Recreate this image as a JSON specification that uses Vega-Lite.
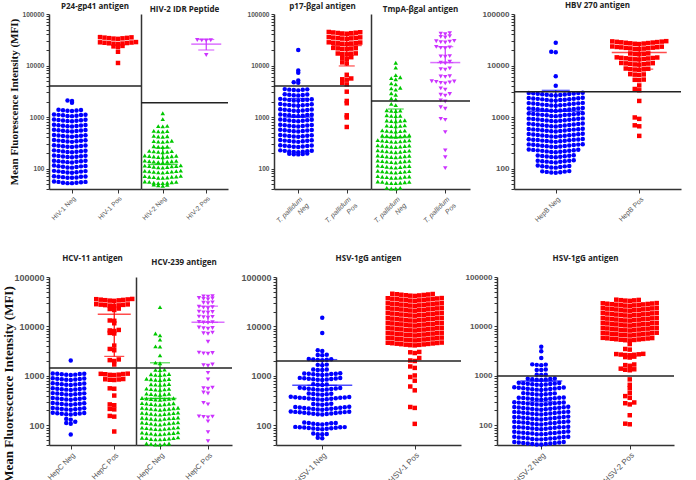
{
"$schema":"https://vega.github.io/schema/vega-lite/v6.json",
"padding":{"left":2,"top":2,"right":0,"bottom":0},
"background":"white",
"spacing":24,
"config":{
 "view":{"stroke":null},
 "axis":{"grid":false,"domainColor":"#333333","domainWidth":1.5,"tickColor":"#333333","tickWidth":1,"labelColor":"#555555","labelFont":"Liberation Sans","labelOverlap":false,"labelFlush":false},
 "axisX":{"labelAngle":-45,"labelFontWeight":"normal","tickSize":4,"labelPadding":2},
 "axisY":{"labelFontWeight":"bold","labelPadding":2,"tickSize":3},
 "title":{"font":"Open Sans","fontWeight":"bold","fontSize":8,"color":"#222222","anchor":"middle","frame":"group"}
},
"datasets":{
 "cutoffs":[{"antigen":"P24-gp41","mfi":4000},{"antigen":"HIV-2 IDR","mfi":1900},{"antigen":"p17","mfi":4000},{"antigen":"TmpA","mfi":2050},{"antigen":"HBV 270","mfi":3100},{"antigen":"HCV-11","mfi":1450},{"antigen":"HCV-239","mfi":1450},{"antigen":"HSV-1gG","mfi":2000},{"antigen":"HSV-2gG","mfi":1000}],
 "stats":[
  {"antigen":"HIV-2 IDR","status":"Neg","mean":120,"lo":120,"hi":250},
  {"antigen":"HIV-2 IDR","status":"Pos","mean":26000,"lo":20000,"hi":32000},
  {"antigen":"p17","status":"Neg","mean":1000,"lo":1000,"hi":2300},
  {"antigen":"p17","status":"Pos","mean":24500,"lo":9800,"hi":39000},
  {"antigen":"TmpA","status":"Neg","mean":400,"lo":400,"hi":1430},
  {"antigen":"TmpA","status":"Pos","mean":11400,"lo":11400,"hi":23200},
  {"antigen":"HBV 270","status":"Neg","mean":1300,"lo":1300,"hi":3300},
  {"antigen":"HBV 270","status":"Pos","mean":17800,"lo":8500,"hi":27100},
  {"antigen":"HCV-11","status":"Pos","mean":17600,"lo":2480,"hi":33000},
  {"antigen":"HCV-239","status":"Neg","mean":350,"lo":350,"hi":1840},
  {"antigen":"HCV-239","status":"Pos","mean":12100,"lo":12100,"hi":25700},
  {"antigen":"HSV-1gG","status":"Neg","mean":645,"lo":645,"hi":2140},
  {"antigen":"HSV-2gG","status":"Neg","mean":790,"lo":300,"hi":790}
 ],
 "hiv1n":[{"mfi":52},{"mfi":52},{"mfi":53},{"mfi":53},{"mfi":54},{"mfi":55},{"mfi":55},{"mfi":56},{"mfi":66},{"mfi":66},{"mfi":67},{"mfi":68},{"mfi":69},{"mfi":69},{"mfi":70},{"mfi":71},{"mfi":83},{"mfi":84},{"mfi":85},{"mfi":86},{"mfi":87},{"mfi":88},{"mfi":89},{"mfi":90},{"mfi":104},{"mfi":105},{"mfi":107},{"mfi":108},{"mfi":110},{"mfi":111},{"mfi":112},{"mfi":114},{"mfi":131},{"mfi":133},{"mfi":135},{"mfi":136},{"mfi":138},{"mfi":139},{"mfi":141},{"mfi":142},{"mfi":165},{"mfi":167},{"mfi":169},{"mfi":171},{"mfi":173},{"mfi":175},{"mfi":177},{"mfi":179},{"mfi":207},{"mfi":210},{"mfi":212},{"mfi":215},{"mfi":217},{"mfi":220},{"mfi":222},{"mfi":225},{"mfi":261},{"mfi":264},{"mfi":267},{"mfi":270},{"mfi":273},{"mfi":276},{"mfi":279},{"mfi":282},{"mfi":329},{"mfi":333},{"mfi":337},{"mfi":341},{"mfi":345},{"mfi":348},{"mfi":352},{"mfi":356},{"mfi":414},{"mfi":419},{"mfi":424},{"mfi":429},{"mfi":434},{"mfi":438},{"mfi":443},{"mfi":448},{"mfi":521},{"mfi":527},{"mfi":533},{"mfi":539},{"mfi":545},{"mfi":551},{"mfi":557},{"mfi":563},{"mfi":656},{"mfi":664},{"mfi":671},{"mfi":679},{"mfi":686},{"mfi":694},{"mfi":701},{"mfi":709},{"mfi":826},{"mfi":835},{"mfi":845},{"mfi":854},{"mfi":864},{"mfi":873},{"mfi":883},{"mfi":892},{"mfi":1040},{"mfi":1050},{"mfi":1060},{"mfi":1080},{"mfi":1090},{"mfi":1100},{"mfi":1110},{"mfi":1120},{"mfi":1310},{"mfi":1320},{"mfi":1340},{"mfi":1350},{"mfi":1370},{"mfi":1380},{"mfi":1900},{"mfi":2050},{"mfi":2100}],
 "hiv1p":[{"mfi":32900},{"mfi":33300},{"mfi":33700},{"mfi":34000},{"mfi":34400},{"mfi":34800},{"mfi":35200},{"mfi":35600},{"mfi":26100},{"mfi":26400},{"mfi":26700},{"mfi":27000},{"mfi":27300},{"mfi":27600},{"mfi":27900},{"mfi":28200},{"mfi":28500},{"mfi":23000},{"mfi":23500},{"mfi":24000},{"mfi":18500},{"mfi":11200}],
 "hiv2n":[{"mfi":46},{"mfi":47},{"mfi":48},{"mfi":49},{"mfi":52},{"mfi":52},{"mfi":53},{"mfi":53},{"mfi":54},{"mfi":55},{"mfi":55},{"mfi":56},{"mfi":66},{"mfi":66},{"mfi":67},{"mfi":68},{"mfi":69},{"mfi":69},{"mfi":70},{"mfi":71},{"mfi":72},{"mfi":83},{"mfi":84},{"mfi":85},{"mfi":86},{"mfi":87},{"mfi":88},{"mfi":89},{"mfi":90},{"mfi":91},{"mfi":104},{"mfi":105},{"mfi":107},{"mfi":108},{"mfi":110},{"mfi":111},{"mfi":112},{"mfi":114},{"mfi":115},{"mfi":131},{"mfi":133},{"mfi":135},{"mfi":136},{"mfi":138},{"mfi":139},{"mfi":141},{"mfi":142},{"mfi":165},{"mfi":167},{"mfi":169},{"mfi":171},{"mfi":173},{"mfi":175},{"mfi":177},{"mfi":179},{"mfi":207},{"mfi":210},{"mfi":212},{"mfi":215},{"mfi":217},{"mfi":220},{"mfi":261},{"mfi":264},{"mfi":267},{"mfi":270},{"mfi":329},{"mfi":333},{"mfi":337},{"mfi":341},{"mfi":345},{"mfi":414},{"mfi":419},{"mfi":424},{"mfi":429},{"mfi":521},{"mfi":527},{"mfi":533},{"mfi":539},{"mfi":656},{"mfi":664},{"mfi":671},{"mfi":910},{"mfi":1180}],
 "hiv2p":[{"mfi":30600},{"mfi":30800},{"mfi":31000},{"mfi":31200},{"mfi":16000}],
 "p17n":[{"mfi":188},{"mfi":190},{"mfi":192},{"mfi":194},{"mfi":196},{"mfi":207},{"mfi":210},{"mfi":212},{"mfi":215},{"mfi":217},{"mfi":220},{"mfi":222},{"mfi":225},{"mfi":261},{"mfi":264},{"mfi":267},{"mfi":270},{"mfi":273},{"mfi":276},{"mfi":279},{"mfi":282},{"mfi":329},{"mfi":333},{"mfi":337},{"mfi":341},{"mfi":345},{"mfi":348},{"mfi":352},{"mfi":356},{"mfi":414},{"mfi":419},{"mfi":424},{"mfi":429},{"mfi":434},{"mfi":438},{"mfi":443},{"mfi":448},{"mfi":521},{"mfi":527},{"mfi":533},{"mfi":539},{"mfi":545},{"mfi":551},{"mfi":557},{"mfi":563},{"mfi":656},{"mfi":664},{"mfi":671},{"mfi":679},{"mfi":686},{"mfi":694},{"mfi":701},{"mfi":709},{"mfi":826},{"mfi":835},{"mfi":845},{"mfi":854},{"mfi":864},{"mfi":873},{"mfi":883},{"mfi":892},{"mfi":1040},{"mfi":1050},{"mfi":1060},{"mfi":1080},{"mfi":1090},{"mfi":1100},{"mfi":1110},{"mfi":1120},{"mfi":1310},{"mfi":1320},{"mfi":1340},{"mfi":1350},{"mfi":1370},{"mfi":1380},{"mfi":1400},{"mfi":1410},{"mfi":1650},{"mfi":1670},{"mfi":1690},{"mfi":1710},{"mfi":1720},{"mfi":1740},{"mfi":1760},{"mfi":1780},{"mfi":2080},{"mfi":2100},{"mfi":2130},{"mfi":2150},{"mfi":2170},{"mfi":2200},{"mfi":2220},{"mfi":2250},{"mfi":2610},{"mfi":2640},{"mfi":2670},{"mfi":2700},{"mfi":2730},{"mfi":2760},{"mfi":3290},{"mfi":3330},{"mfi":3370},{"mfi":3400},{"mfi":3440},{"mfi":3480},{"mfi":4600},{"mfi":4750},{"mfi":5100},{"mfi":7200},{"mfi":8000},{"mfi":20000}],
 "p17p":[{"mfi":41400},{"mfi":41900},{"mfi":42400},{"mfi":42800},{"mfi":43300},{"mfi":43800},{"mfi":44300},{"mfi":44800},{"mfi":32900},{"mfi":33300},{"mfi":33700},{"mfi":34000},{"mfi":34400},{"mfi":34800},{"mfi":35200},{"mfi":35600},{"mfi":26100},{"mfi":26400},{"mfi":26700},{"mfi":27000},{"mfi":27300},{"mfi":27600},{"mfi":27900},{"mfi":28200},{"mfi":20800},{"mfi":21000},{"mfi":21300},{"mfi":21500},{"mfi":21700},{"mfi":22000},{"mfi":16500},{"mfi":16700},{"mfi":16900},{"mfi":17100},{"mfi":17200},{"mfi":13500},{"mfi":14000},{"mfi":14500},{"mfi":11000},{"mfi":11500},{"mfi":6600},{"mfi":5300},{"mfi":5400},{"mfi":5600},{"mfi":4300},{"mfi":4600},{"mfi":3100},{"mfi":2050},{"mfi":1850},{"mfi":1080},{"mfi":980},{"mfi":640}],
 "tmpn":[{"mfi":41},{"mfi":41},{"mfi":42},{"mfi":42},{"mfi":52},{"mfi":52},{"mfi":53},{"mfi":53},{"mfi":54},{"mfi":55},{"mfi":55},{"mfi":56},{"mfi":66},{"mfi":66},{"mfi":67},{"mfi":68},{"mfi":69},{"mfi":69},{"mfi":70},{"mfi":71},{"mfi":83},{"mfi":84},{"mfi":85},{"mfi":86},{"mfi":87},{"mfi":88},{"mfi":89},{"mfi":90},{"mfi":104},{"mfi":105},{"mfi":107},{"mfi":108},{"mfi":110},{"mfi":111},{"mfi":112},{"mfi":114},{"mfi":131},{"mfi":133},{"mfi":135},{"mfi":136},{"mfi":138},{"mfi":139},{"mfi":141},{"mfi":142},{"mfi":165},{"mfi":167},{"mfi":169},{"mfi":171},{"mfi":173},{"mfi":175},{"mfi":177},{"mfi":179},{"mfi":207},{"mfi":210},{"mfi":212},{"mfi":215},{"mfi":217},{"mfi":220},{"mfi":222},{"mfi":225},{"mfi":261},{"mfi":264},{"mfi":267},{"mfi":270},{"mfi":273},{"mfi":276},{"mfi":279},{"mfi":282},{"mfi":329},{"mfi":333},{"mfi":337},{"mfi":341},{"mfi":345},{"mfi":348},{"mfi":352},{"mfi":356},{"mfi":414},{"mfi":419},{"mfi":424},{"mfi":429},{"mfi":434},{"mfi":438},{"mfi":443},{"mfi":521},{"mfi":527},{"mfi":533},{"mfi":539},{"mfi":545},{"mfi":551},{"mfi":656},{"mfi":664},{"mfi":671},{"mfi":679},{"mfi":686},{"mfi":826},{"mfi":835},{"mfi":845},{"mfi":854},{"mfi":864},{"mfi":1040},{"mfi":1050},{"mfi":1060},{"mfi":1080},{"mfi":1310},{"mfi":1320},{"mfi":1340},{"mfi":1350},{"mfi":1700},{"mfi":1800},{"mfi":2200},{"mfi":2300},{"mfi":2700},{"mfi":2900},{"mfi":3400},{"mfi":3600},{"mfi":3700},{"mfi":4300},{"mfi":4500},{"mfi":5400},{"mfi":5700},{"mfi":5900},{"mfi":6500},{"mfi":9100},{"mfi":11300}],
 "tmpp":[{"mfi":40500},{"mfi":41500},{"mfi":42500},{"mfi":35000},{"mfi":36000},{"mfi":37000},{"mfi":28000},{"mfi":28500},{"mfi":29000},{"mfi":29500},{"mfi":30000},{"mfi":21500},{"mfi":22000},{"mfi":22500},{"mfi":23000},{"mfi":14800},{"mfi":15000},{"mfi":15200},{"mfi":11000},{"mfi":11400},{"mfi":11800},{"mfi":8300},{"mfi":8500},{"mfi":8800},{"mfi":6000},{"mfi":6100},{"mfi":6200},{"mfi":4500},{"mfi":4600},{"mfi":4700},{"mfi":4800},{"mfi":4900},{"mfi":4950},{"mfi":3400},{"mfi":3600},{"mfi":2600},{"mfi":2700},{"mfi":2800},{"mfi":2000},{"mfi":2100},{"mfi":1450},{"mfi":1550},{"mfi":880},{"mfi":920},{"mfi":510},{"mfi":225},{"mfi":165},{"mfi":102}],
 "hbvn":[{"mfi":83},{"mfi":84},{"mfi":85},{"mfi":86},{"mfi":87},{"mfi":88},{"mfi":89},{"mfi":104},{"mfi":105},{"mfi":107},{"mfi":108},{"mfi":110},{"mfi":111},{"mfi":112},{"mfi":114},{"mfi":131},{"mfi":133},{"mfi":135},{"mfi":136},{"mfi":138},{"mfi":139},{"mfi":141},{"mfi":142},{"mfi":144},{"mfi":165},{"mfi":167},{"mfi":169},{"mfi":171},{"mfi":173},{"mfi":175},{"mfi":177},{"mfi":179},{"mfi":181},{"mfi":207},{"mfi":210},{"mfi":212},{"mfi":215},{"mfi":217},{"mfi":220},{"mfi":222},{"mfi":225},{"mfi":227},{"mfi":230},{"mfi":232},{"mfi":234},{"mfi":261},{"mfi":264},{"mfi":267},{"mfi":270},{"mfi":273},{"mfi":276},{"mfi":279},{"mfi":282},{"mfi":285},{"mfi":288},{"mfi":291},{"mfi":294},{"mfi":297},{"mfi":329},{"mfi":333},{"mfi":337},{"mfi":341},{"mfi":345},{"mfi":348},{"mfi":352},{"mfi":356},{"mfi":360},{"mfi":363},{"mfi":367},{"mfi":371},{"mfi":375},{"mfi":414},{"mfi":419},{"mfi":424},{"mfi":429},{"mfi":434},{"mfi":438},{"mfi":443},{"mfi":448},{"mfi":453},{"mfi":458},{"mfi":463},{"mfi":467},{"mfi":472},{"mfi":521},{"mfi":527},{"mfi":533},{"mfi":539},{"mfi":545},{"mfi":551},{"mfi":557},{"mfi":563},{"mfi":569},{"mfi":575},{"mfi":581},{"mfi":587},{"mfi":593},{"mfi":656},{"mfi":664},{"mfi":671},{"mfi":679},{"mfi":686},{"mfi":694},{"mfi":701},{"mfi":709},{"mfi":716},{"mfi":724},{"mfi":731},{"mfi":739},{"mfi":746},{"mfi":826},{"mfi":835},{"mfi":845},{"mfi":854},{"mfi":864},{"mfi":873},{"mfi":883},{"mfi":892},{"mfi":902},{"mfi":911},{"mfi":921},{"mfi":930},{"mfi":940},{"mfi":1040},{"mfi":1050},{"mfi":1060},{"mfi":1080},{"mfi":1090},{"mfi":1100},{"mfi":1110},{"mfi":1120},{"mfi":1130},{"mfi":1150},{"mfi":1160},{"mfi":1170},{"mfi":1180},{"mfi":1310},{"mfi":1320},{"mfi":1340},{"mfi":1350},{"mfi":1370},{"mfi":1380},{"mfi":1400},{"mfi":1410},{"mfi":1430},{"mfi":1440},{"mfi":1460},{"mfi":1470},{"mfi":1490},{"mfi":1650},{"mfi":1670},{"mfi":1690},{"mfi":1710},{"mfi":1720},{"mfi":1740},{"mfi":1760},{"mfi":1780},{"mfi":1800},{"mfi":1820},{"mfi":1840},{"mfi":1860},{"mfi":1880},{"mfi":2080},{"mfi":2100},{"mfi":2130},{"mfi":2150},{"mfi":2170},{"mfi":2200},{"mfi":2220},{"mfi":2250},{"mfi":2270},{"mfi":2290},{"mfi":2320},{"mfi":2340},{"mfi":2370},{"mfi":2610},{"mfi":2640},{"mfi":2670},{"mfi":2700},{"mfi":2730},{"mfi":2760},{"mfi":2790},{"mfi":2820},{"mfi":2850},{"mfi":2880},{"mfi":2910},{"mfi":2940},{"mfi":2970},{"mfi":4050},{"mfi":6200},{"mfi":18000},{"mfi":18500},{"mfi":27700}],
 "hbvp":[{"mfi":26100},{"mfi":26400},{"mfi":26700},{"mfi":27000},{"mfi":27300},{"mfi":27600},{"mfi":27900},{"mfi":28200},{"mfi":28500},{"mfi":28800},{"mfi":29100},{"mfi":29400},{"mfi":29700},{"mfi":20800},{"mfi":21000},{"mfi":21300},{"mfi":21500},{"mfi":21700},{"mfi":22000},{"mfi":22200},{"mfi":22500},{"mfi":22700},{"mfi":22900},{"mfi":23200},{"mfi":23400},{"mfi":16500},{"mfi":16700},{"mfi":16900},{"mfi":17100},{"mfi":17200},{"mfi":13100},{"mfi":13200},{"mfi":13400},{"mfi":13500},{"mfi":13700},{"mfi":13800},{"mfi":14000},{"mfi":14100},{"mfi":14300},{"mfi":14400},{"mfi":10400},{"mfi":10500},{"mfi":10600},{"mfi":10800},{"mfi":10900},{"mfi":11000},{"mfi":11100},{"mfi":11200},{"mfi":8260},{"mfi":8350},{"mfi":8450},{"mfi":8540},{"mfi":8640},{"mfi":8730},{"mfi":6560},{"mfi":6640},{"mfi":6710},{"mfi":6790},{"mfi":5210},{"mfi":5270},{"mfi":5330},{"mfi":4100},{"mfi":3300},{"mfi":3500},{"mfi":2050},{"mfi":920},{"mfi":980},{"mfi":660},{"mfi":690},{"mfi":430}],
 "hcv11n":[{"mfi":65},{"mfi":108},{"mfi":112},{"mfi":118},{"mfi":130},{"mfi":135},{"mfi":165},{"mfi":167},{"mfi":169},{"mfi":171},{"mfi":173},{"mfi":175},{"mfi":177},{"mfi":179},{"mfi":207},{"mfi":210},{"mfi":212},{"mfi":215},{"mfi":217},{"mfi":220},{"mfi":222},{"mfi":225},{"mfi":261},{"mfi":264},{"mfi":267},{"mfi":270},{"mfi":273},{"mfi":276},{"mfi":279},{"mfi":282},{"mfi":329},{"mfi":333},{"mfi":337},{"mfi":341},{"mfi":345},{"mfi":348},{"mfi":352},{"mfi":356},{"mfi":414},{"mfi":419},{"mfi":424},{"mfi":429},{"mfi":434},{"mfi":438},{"mfi":443},{"mfi":448},{"mfi":521},{"mfi":527},{"mfi":533},{"mfi":539},{"mfi":545},{"mfi":551},{"mfi":557},{"mfi":563},{"mfi":656},{"mfi":664},{"mfi":671},{"mfi":679},{"mfi":686},{"mfi":694},{"mfi":701},{"mfi":709},{"mfi":826},{"mfi":835},{"mfi":845},{"mfi":854},{"mfi":864},{"mfi":873},{"mfi":883},{"mfi":892},{"mfi":1040},{"mfi":1050},{"mfi":1060},{"mfi":1080},{"mfi":1090},{"mfi":1100},{"mfi":1110},{"mfi":1120},{"mfi":2050}],
 "hcv11p":[{"mfi":32900},{"mfi":33300},{"mfi":33700},{"mfi":34000},{"mfi":34400},{"mfi":34800},{"mfi":35200},{"mfi":35600},{"mfi":36000},{"mfi":26100},{"mfi":26400},{"mfi":26700},{"mfi":27000},{"mfi":27300},{"mfi":27600},{"mfi":27900},{"mfi":28200},{"mfi":21500},{"mfi":22500},{"mfi":23000},{"mfi":13000},{"mfi":13200},{"mfi":11600},{"mfi":8100},{"mfi":8300},{"mfi":8500},{"mfi":7200},{"mfi":7400},{"mfi":4100},{"mfi":3300},{"mfi":3500},{"mfi":2000},{"mfi":2080},{"mfi":2150},{"mfi":1700},{"mfi":1040},{"mfi":1050},{"mfi":1060},{"mfi":1080},{"mfi":1090},{"mfi":1100},{"mfi":1110},{"mfi":826},{"mfi":835},{"mfi":845},{"mfi":854},{"mfi":864},{"mfi":550},{"mfi":560},{"mfi":400},{"mfi":255},{"mfi":265},{"mfi":210},{"mfi":215},{"mfi":150},{"mfi":155},{"mfi":75}],
 "hcv239n":[{"mfi":41},{"mfi":41},{"mfi":42},{"mfi":42},{"mfi":43},{"mfi":43},{"mfi":52},{"mfi":52},{"mfi":53},{"mfi":53},{"mfi":54},{"mfi":55},{"mfi":55},{"mfi":56},{"mfi":57},{"mfi":66},{"mfi":66},{"mfi":67},{"mfi":68},{"mfi":69},{"mfi":69},{"mfi":70},{"mfi":71},{"mfi":72},{"mfi":83},{"mfi":84},{"mfi":85},{"mfi":86},{"mfi":87},{"mfi":88},{"mfi":89},{"mfi":90},{"mfi":91},{"mfi":104},{"mfi":105},{"mfi":107},{"mfi":108},{"mfi":110},{"mfi":111},{"mfi":112},{"mfi":114},{"mfi":115},{"mfi":131},{"mfi":133},{"mfi":135},{"mfi":136},{"mfi":138},{"mfi":139},{"mfi":141},{"mfi":142},{"mfi":144},{"mfi":165},{"mfi":167},{"mfi":169},{"mfi":171},{"mfi":173},{"mfi":175},{"mfi":177},{"mfi":179},{"mfi":181},{"mfi":207},{"mfi":210},{"mfi":212},{"mfi":215},{"mfi":217},{"mfi":220},{"mfi":222},{"mfi":225},{"mfi":227},{"mfi":261},{"mfi":264},{"mfi":267},{"mfi":270},{"mfi":273},{"mfi":276},{"mfi":279},{"mfi":282},{"mfi":329},{"mfi":333},{"mfi":337},{"mfi":341},{"mfi":345},{"mfi":348},{"mfi":352},{"mfi":356},{"mfi":414},{"mfi":419},{"mfi":424},{"mfi":429},{"mfi":434},{"mfi":438},{"mfi":521},{"mfi":527},{"mfi":533},{"mfi":539},{"mfi":545},{"mfi":551},{"mfi":656},{"mfi":664},{"mfi":671},{"mfi":679},{"mfi":686},{"mfi":826},{"mfi":835},{"mfi":845},{"mfi":854},{"mfi":864},{"mfi":873},{"mfi":1040},{"mfi":1050},{"mfi":1060},{"mfi":1080},{"mfi":1090},{"mfi":1310},{"mfi":1320},{"mfi":1340},{"mfi":1800},{"mfi":1850},{"mfi":2600},{"mfi":3900},{"mfi":3950},{"mfi":5400},{"mfi":6600},{"mfi":7200},{"mfi":24600}],
 "hcv239p":[{"mfi":40200},{"mfi":40600},{"mfi":41000},{"mfi":35000},{"mfi":36000},{"mfi":36700},{"mfi":37500},{"mfi":29500},{"mfi":30200},{"mfi":30700},{"mfi":23500},{"mfi":24000},{"mfi":24500},{"mfi":25000},{"mfi":19000},{"mfi":19300},{"mfi":19600},{"mfi":19900},{"mfi":15000},{"mfi":15300},{"mfi":15600},{"mfi":15800},{"mfi":11800},{"mfi":12000},{"mfi":12200},{"mfi":12400},{"mfi":9000},{"mfi":9200},{"mfi":9300},{"mfi":9500},{"mfi":7100},{"mfi":7300},{"mfi":7500},{"mfi":4900},{"mfi":2800},{"mfi":2850},{"mfi":2900},{"mfi":2950},{"mfi":1600},{"mfi":1650},{"mfi":1700},{"mfi":1150},{"mfi":850},{"mfi":550},{"mfi":565},{"mfi":580},{"mfi":440},{"mfi":460},{"mfi":265},{"mfi":285},{"mfi":145},{"mfi":148},{"mfi":150},{"mfi":152},{"mfi":120},{"mfi":73},{"mfi":48}],
 "hsv1n":[{"mfi":55},{"mfi":56},{"mfi":66},{"mfi":66},{"mfi":67},{"mfi":68},{"mfi":83},{"mfi":84},{"mfi":85},{"mfi":86},{"mfi":87},{"mfi":88},{"mfi":89},{"mfi":90},{"mfi":91},{"mfi":91},{"mfi":92},{"mfi":93},{"mfi":104},{"mfi":105},{"mfi":107},{"mfi":108},{"mfi":110},{"mfi":111},{"mfi":112},{"mfi":114},{"mfi":165},{"mfi":167},{"mfi":169},{"mfi":171},{"mfi":173},{"mfi":175},{"mfi":177},{"mfi":179},{"mfi":181},{"mfi":183},{"mfi":185},{"mfi":187},{"mfi":188},{"mfi":190},{"mfi":207},{"mfi":210},{"mfi":212},{"mfi":215},{"mfi":217},{"mfi":220},{"mfi":222},{"mfi":225},{"mfi":227},{"mfi":230},{"mfi":232},{"mfi":234},{"mfi":237},{"mfi":261},{"mfi":264},{"mfi":267},{"mfi":270},{"mfi":273},{"mfi":329},{"mfi":333},{"mfi":337},{"mfi":341},{"mfi":345},{"mfi":348},{"mfi":352},{"mfi":356},{"mfi":360},{"mfi":363},{"mfi":367},{"mfi":371},{"mfi":375},{"mfi":379},{"mfi":414},{"mfi":419},{"mfi":424},{"mfi":429},{"mfi":434},{"mfi":438},{"mfi":521},{"mfi":527},{"mfi":533},{"mfi":539},{"mfi":545},{"mfi":551},{"mfi":557},{"mfi":563},{"mfi":569},{"mfi":575},{"mfi":656},{"mfi":664},{"mfi":671},{"mfi":679},{"mfi":826},{"mfi":835},{"mfi":845},{"mfi":854},{"mfi":864},{"mfi":873},{"mfi":883},{"mfi":892},{"mfi":902},{"mfi":911},{"mfi":1040},{"mfi":1050},{"mfi":1060},{"mfi":1080},{"mfi":1090},{"mfi":1100},{"mfi":1110},{"mfi":1120},{"mfi":1130},{"mfi":1310},{"mfi":1320},{"mfi":1340},{"mfi":1350},{"mfi":1650},{"mfi":1670},{"mfi":1690},{"mfi":2080},{"mfi":2100},{"mfi":2130},{"mfi":2150},{"mfi":2170},{"mfi":2200},{"mfi":2610},{"mfi":2640},{"mfi":2670},{"mfi":3200},{"mfi":3300},{"mfi":7400},{"mfi":15000}],
 "hsv1p":[{"mfi":41400},{"mfi":41900},{"mfi":42400},{"mfi":42800},{"mfi":43300},{"mfi":43800},{"mfi":44300},{"mfi":44800},{"mfi":45300},{"mfi":45800},{"mfi":32900},{"mfi":33300},{"mfi":33700},{"mfi":34000},{"mfi":34400},{"mfi":34800},{"mfi":35200},{"mfi":35600},{"mfi":36000},{"mfi":36400},{"mfi":36800},{"mfi":37200},{"mfi":37500},{"mfi":26100},{"mfi":26400},{"mfi":26700},{"mfi":27000},{"mfi":27300},{"mfi":27600},{"mfi":27900},{"mfi":28200},{"mfi":28500},{"mfi":28800},{"mfi":29100},{"mfi":29400},{"mfi":29700},{"mfi":20800},{"mfi":21000},{"mfi":21300},{"mfi":21500},{"mfi":21700},{"mfi":22000},{"mfi":22200},{"mfi":22500},{"mfi":22700},{"mfi":22900},{"mfi":23200},{"mfi":23400},{"mfi":23700},{"mfi":16500},{"mfi":16700},{"mfi":16900},{"mfi":17100},{"mfi":17200},{"mfi":17400},{"mfi":17600},{"mfi":17800},{"mfi":18000},{"mfi":18200},{"mfi":18400},{"mfi":18600},{"mfi":18800},{"mfi":13100},{"mfi":13200},{"mfi":13400},{"mfi":13500},{"mfi":13700},{"mfi":13800},{"mfi":14000},{"mfi":14100},{"mfi":14300},{"mfi":14400},{"mfi":14600},{"mfi":14700},{"mfi":14900},{"mfi":10400},{"mfi":10500},{"mfi":10600},{"mfi":10800},{"mfi":10900},{"mfi":11000},{"mfi":11100},{"mfi":11200},{"mfi":11300},{"mfi":11500},{"mfi":11600},{"mfi":11700},{"mfi":11800},{"mfi":8260},{"mfi":8350},{"mfi":8450},{"mfi":8540},{"mfi":8640},{"mfi":8730},{"mfi":8830},{"mfi":8920},{"mfi":9020},{"mfi":9110},{"mfi":9210},{"mfi":9300},{"mfi":9400},{"mfi":6560},{"mfi":6640},{"mfi":6710},{"mfi":6790},{"mfi":6860},{"mfi":6940},{"mfi":7010},{"mfi":7090},{"mfi":7160},{"mfi":7240},{"mfi":7310},{"mfi":7390},{"mfi":7460},{"mfi":5210},{"mfi":5270},{"mfi":5330},{"mfi":5390},{"mfi":5450},{"mfi":5510},{"mfi":5580},{"mfi":5640},{"mfi":5700},{"mfi":5760},{"mfi":5820},{"mfi":5880},{"mfi":5940},{"mfi":4140},{"mfi":4190},{"mfi":4240},{"mfi":4280},{"mfi":4330},{"mfi":4380},{"mfi":4430},{"mfi":4480},{"mfi":4530},{"mfi":4580},{"mfi":4630},{"mfi":4680},{"mfi":4720},{"mfi":2900},{"mfi":3000},{"mfi":3050},{"mfi":2000},{"mfi":2050},{"mfi":2300},{"mfi":1450},{"mfi":1550},{"mfi":1020},{"mfi":800},{"mfi":950},{"mfi":510},{"mfi":610},{"mfi":225},{"mfi":235},{"mfi":107}],
 "hsv2n":[{"mfi":41},{"mfi":41},{"mfi":42},{"mfi":42},{"mfi":43},{"mfi":43},{"mfi":44},{"mfi":44},{"mfi":45},{"mfi":45},{"mfi":46},{"mfi":46},{"mfi":52},{"mfi":52},{"mfi":53},{"mfi":53},{"mfi":54},{"mfi":55},{"mfi":55},{"mfi":56},{"mfi":57},{"mfi":57},{"mfi":58},{"mfi":59},{"mfi":59},{"mfi":66},{"mfi":66},{"mfi":67},{"mfi":68},{"mfi":69},{"mfi":69},{"mfi":70},{"mfi":71},{"mfi":72},{"mfi":72},{"mfi":73},{"mfi":74},{"mfi":75},{"mfi":83},{"mfi":84},{"mfi":85},{"mfi":86},{"mfi":87},{"mfi":88},{"mfi":89},{"mfi":90},{"mfi":91},{"mfi":91},{"mfi":92},{"mfi":93},{"mfi":94},{"mfi":104},{"mfi":105},{"mfi":107},{"mfi":108},{"mfi":110},{"mfi":111},{"mfi":112},{"mfi":114},{"mfi":115},{"mfi":116},{"mfi":117},{"mfi":118},{"mfi":119},{"mfi":131},{"mfi":133},{"mfi":135},{"mfi":136},{"mfi":138},{"mfi":139},{"mfi":141},{"mfi":142},{"mfi":144},{"mfi":145},{"mfi":147},{"mfi":148},{"mfi":150},{"mfi":165},{"mfi":167},{"mfi":169},{"mfi":171},{"mfi":173},{"mfi":175},{"mfi":177},{"mfi":179},{"mfi":181},{"mfi":183},{"mfi":185},{"mfi":187},{"mfi":188},{"mfi":207},{"mfi":210},{"mfi":212},{"mfi":215},{"mfi":217},{"mfi":220},{"mfi":222},{"mfi":225},{"mfi":227},{"mfi":230},{"mfi":232},{"mfi":234},{"mfi":237},{"mfi":261},{"mfi":264},{"mfi":267},{"mfi":270},{"mfi":273},{"mfi":276},{"mfi":279},{"mfi":282},{"mfi":285},{"mfi":288},{"mfi":291},{"mfi":294},{"mfi":329},{"mfi":333},{"mfi":337},{"mfi":341},{"mfi":345},{"mfi":348},{"mfi":352},{"mfi":356},{"mfi":360},{"mfi":363},{"mfi":367},{"mfi":414},{"mfi":419},{"mfi":424},{"mfi":429},{"mfi":434},{"mfi":438},{"mfi":443},{"mfi":448},{"mfi":521},{"mfi":527},{"mfi":533},{"mfi":539},{"mfi":545},{"mfi":551},{"mfi":557},{"mfi":563},{"mfi":569},{"mfi":575},{"mfi":581},{"mfi":587},{"mfi":656},{"mfi":664},{"mfi":671},{"mfi":679},{"mfi":686},{"mfi":694},{"mfi":701},{"mfi":709},{"mfi":716},{"mfi":724},{"mfi":826},{"mfi":835},{"mfi":845},{"mfi":854},{"mfi":864},{"mfi":873},{"mfi":883},{"mfi":1040},{"mfi":1050},{"mfi":1060},{"mfi":1310},{"mfi":1320},{"mfi":1340},{"mfi":1650},{"mfi":1670},{"mfi":1690},{"mfi":1710},{"mfi":2300},{"mfi":3150},{"mfi":3900}],
 "hsv2p":[{"mfi":32900},{"mfi":33300},{"mfi":33700},{"mfi":34000},{"mfi":34400},{"mfi":34800},{"mfi":26100},{"mfi":26400},{"mfi":26700},{"mfi":27000},{"mfi":27300},{"mfi":27600},{"mfi":27900},{"mfi":28200},{"mfi":28500},{"mfi":28800},{"mfi":29100},{"mfi":29400},{"mfi":29700},{"mfi":20800},{"mfi":21000},{"mfi":21300},{"mfi":21500},{"mfi":21700},{"mfi":22000},{"mfi":22200},{"mfi":22500},{"mfi":22700},{"mfi":22900},{"mfi":23200},{"mfi":23400},{"mfi":23700},{"mfi":16500},{"mfi":16700},{"mfi":16900},{"mfi":17100},{"mfi":17200},{"mfi":17400},{"mfi":17600},{"mfi":17800},{"mfi":18000},{"mfi":18200},{"mfi":18400},{"mfi":18600},{"mfi":18800},{"mfi":13100},{"mfi":13200},{"mfi":13400},{"mfi":13500},{"mfi":13700},{"mfi":13800},{"mfi":14000},{"mfi":14100},{"mfi":14300},{"mfi":14400},{"mfi":14600},{"mfi":14700},{"mfi":14900},{"mfi":10400},{"mfi":10500},{"mfi":10600},{"mfi":10800},{"mfi":10900},{"mfi":11000},{"mfi":11100},{"mfi":11200},{"mfi":11300},{"mfi":11500},{"mfi":11600},{"mfi":11700},{"mfi":11800},{"mfi":8260},{"mfi":8350},{"mfi":8450},{"mfi":8540},{"mfi":8640},{"mfi":8730},{"mfi":8830},{"mfi":8920},{"mfi":9020},{"mfi":9110},{"mfi":9210},{"mfi":9300},{"mfi":9400},{"mfi":6560},{"mfi":6640},{"mfi":6710},{"mfi":6790},{"mfi":6860},{"mfi":6940},{"mfi":7010},{"mfi":7090},{"mfi":7160},{"mfi":7240},{"mfi":7310},{"mfi":7390},{"mfi":7460},{"mfi":5210},{"mfi":5270},{"mfi":5330},{"mfi":5390},{"mfi":5450},{"mfi":5510},{"mfi":5580},{"mfi":5640},{"mfi":5700},{"mfi":5760},{"mfi":5820},{"mfi":5880},{"mfi":4400},{"mfi":3400},{"mfi":3500},{"mfi":2610},{"mfi":2640},{"mfi":2670},{"mfi":2700},{"mfi":2730},{"mfi":2760},{"mfi":2790},{"mfi":2350},{"mfi":2400},{"mfi":2450},{"mfi":1600},{"mfi":1650},{"mfi":1700},{"mfi":1300},{"mfi":1330},{"mfi":1360},{"mfi":1400},{"mfi":850},{"mfi":660},{"mfi":560},{"mfi":450},{"mfi":360},{"mfi":390},{"mfi":265},{"mfi":280},{"mfi":290},{"mfi":160},{"mfi":105},{"mfi":108}]
},
"vconcat":[
 {"bounds":"flush","spacing":0,"hconcat":[
   {"width":92,"height":175,"title":{"text":"P24-gp41 antigen","offset":0,"frame":"group"},
    "layer":[
     {"data":{"name":"hiv1n"},"transform":[{"calculate":"floor(10*log(datum.mfi)/LN10)","as":"row"},{"window":[{"op":"row_number","as":"rank"}],"groupby":["row"],"sort":[{"field":"mfi","order":"ascending"}]},{"calculate":"0+(datum.rank%2==0?-1:1)*floor(datum.rank/2)*0.0978","as":"pos"}],
      "mark":{"type":"point","shape":"circle","filled":true,"opacity":1,"size":20,"color":"#0000ff"},
      "encoding":{"x":{"field":"pos","type":"quantitative","scale":{"domain":[-0.5,1.5]},"axis":{"values":[0,1],"labelExpr":"datum.value<0.5?'HIV-1 Neg':'HIV-1 Pos'","title":null,"labelFontSize":6.7}},
       "y":{"field":"mfi","type":"quantitative","scale":{"type":"log","domain":[40,100000]},"axis":{"title":"Mean Fluorescence Intensity (MFI)","titleFont":"Liberation Serif","titleFontSize":11,"titleFontWeight":"bold","titleColor":"#111111","titlePadding":2,"values":[40,50,60,70,80,90,100,200,300,400,500,600,700,800,900,1000,2000,3000,4000,5000,6000,7000,8000,9000,10000,20000,30000,40000,50000,60000,70000,80000,90000,100000],"labelExpr":"indexof([100,1000,10000,100000],datum.value)>=0?format(datum.value,'d'):''","labelFontSize":6.6}}}},
     {"data":{"name":"hiv1p"},"transform":[{"calculate":"floor(10*log(datum.mfi)/LN10)","as":"row"},{"window":[{"op":"row_number","as":"rank"}],"groupby":["row"],"sort":[{"field":"mfi","order":"ascending"}]},{"calculate":"1+(datum.rank%2==0?-1:1)*floor(datum.rank/2)*0.0978","as":"pos"}],
      "mark":{"type":"point","shape":"square","filled":true,"opacity":1,"size":20,"color":"#ff0000"},
      "encoding":{"x":{"field":"pos","type":"quantitative","scale":{"domain":[-0.5,1.5]}},"y":{"field":"mfi","type":"quantitative","scale":{"type":"log","domain":[40,100000]}}}},
     {"data":{"name":"cutoffs"},"transform":[{"filter":"datum.antigen=='P24-gp41'"}],"mark":{"type":"rule","color":"#222222","strokeWidth":1.5},"encoding":{"y":{"field":"mfi","type":"quantitative","scale":{"type":"log","domain":[40,100000]}}}}
    ]},
   {"width":87,"height":175,"title":{"text":"HIV-2 IDR Peptide","offset":0,"frame":"group"},
    "layer":[
     {"data":{"name":"hiv2n"},"transform":[{"calculate":"floor(10*log(datum.mfi)/LN10)","as":"row"},{"window":[{"op":"row_number","as":"rank"}],"groupby":["row"],"sort":[{"field":"mfi","order":"ascending"}]},{"calculate":"0+(datum.rank%2==0?-1:1)*floor(datum.rank/2)*0.1034","as":"pos"}],
      "mark":{"type":"point","shape":"triangle-up","filled":true,"opacity":1,"size":20,"color":"#00c800"},
      "encoding":{"x":{"field":"pos","type":"quantitative","scale":{"domain":[-0.5,1.5]},"axis":{"values":[0,1],"labelExpr":"datum.value<0.5?'HIV-2 Neg':'HIV-2 Pos'","title":null,"labelFontSize":6.7}},
       "y":{"field":"mfi","type":"quantitative","scale":{"type":"log","domain":[40,100000]},"axis":{"title":null,"labels":false,"ticks":false}}}},
     {"data":{"name":"hiv2p"},"transform":[{"calculate":"floor(10*log(datum.mfi)/LN10)","as":"row"},{"window":[{"op":"row_number","as":"rank"}],"groupby":["row"],"sort":[{"field":"mfi","order":"ascending"}]},{"calculate":"1+(datum.rank%2==0?-1:1)*floor(datum.rank/2)*0.1034","as":"pos"}],
      "mark":{"type":"point","shape":"triangle-down","filled":true,"opacity":1,"size":20,"color":"#cc33ff"},
      "encoding":{"x":{"field":"pos","type":"quantitative","scale":{"domain":[-0.5,1.5]}},"y":{"field":"mfi","type":"quantitative","scale":{"type":"log","domain":[40,100000]}}}},
     {"data":{"name":"stats"},"transform":[{"filter":"datum.antigen=='HIV-2 IDR'&&datum.status=='Neg'"}],"encoding":{"x":{"datum":0,"type":"quantitative","scale":{"domain":[-0.5,1.5]}}},
      "layer":[
       {"mark":{"type":"rule","color":"#00c800","strokeWidth":1.2},"encoding":{"y":{"field":"lo","type":"quantitative","scale":{"type":"log","domain":[40,100000]}},"y2":{"field":"hi"}}},
       {"mark":{"type":"tick","orient":"horizontal","color":"#00c800","size":30,"thickness":1.5},"encoding":{"y":{"field":"mean","type":"quantitative","scale":{"type":"log","domain":[40,100000]}}}},
       {"transform":[{"fold":["lo","hi"],"as":["bound","val"]}],"mark":{"type":"tick","orient":"horizontal","color":"#00c800","size":16,"thickness":1.2},"encoding":{"y":{"field":"val","type":"quantitative","scale":{"type":"log","domain":[40,100000]}}}}]},
     {"data":{"name":"stats"},"transform":[{"filter":"datum.antigen=='HIV-2 IDR'&&datum.status=='Pos'"}],"encoding":{"x":{"datum":1,"type":"quantitative","scale":{"domain":[-0.5,1.5]}}},
      "layer":[
       {"mark":{"type":"rule","color":"#cc33ff","strokeWidth":1.2},"encoding":{"y":{"field":"lo","type":"quantitative","scale":{"type":"log","domain":[40,100000]}},"y2":{"field":"hi"}}},
       {"mark":{"type":"tick","orient":"horizontal","color":"#cc33ff","size":30,"thickness":1.5},"encoding":{"y":{"field":"mean","type":"quantitative","scale":{"type":"log","domain":[40,100000]}}}},
       {"transform":[{"fold":["lo","hi"],"as":["bound","val"]}],"mark":{"type":"tick","orient":"horizontal","color":"#cc33ff","size":16,"thickness":1.2},"encoding":{"y":{"field":"val","type":"quantitative","scale":{"type":"log","domain":[40,100000]}}}}]},
     {"data":{"name":"cutoffs"},"transform":[{"filter":"datum.antigen=='HIV-2 IDR'"}],"mark":{"type":"rule","color":"#222222","strokeWidth":1.5},"encoding":{"y":{"field":"mfi","type":"quantitative","scale":{"type":"log","domain":[40,100000]}}}}
    ]},
   {"width":46,"height":175,"data":{"values":[]},"mark":"point"},
   {"width":97,"height":175,"title":{"text":"p17-βgal antigen","offset":0,"frame":"group"},
     "layer":[
      {"data":{"name":"p17n"},"transform":[{"calculate":"floor(10*log(datum.mfi)/LN10)","as":"row"},{"window":[{"op":"row_number","as":"rank"}],"groupby":["row"],"sort":[{"field":"mfi","order":"ascending"}]},{"calculate":"0+(datum.rank%2==0?-1:1)*floor(datum.rank/2)*0.0928","as":"pos"}],
       "mark":{"type":"point","shape":"circle","filled":true,"opacity":1,"size":20,"color":"#0000ff"},
       "encoding":{"x":{"field":"pos","type":"quantitative","scale":{"domain":[-0.5,1.5]},"axis":{"values":[0,1],"labelExpr":"datum.value<0.5?['T. pallidum','Neg']:['T. pallidum','Pos']","title":null,"labelFontSize":7,"labelFontStyle":"italic"}},
        "y":{"field":"mfi","type":"quantitative","scale":{"type":"log","domain":[40,100000]},"axis":{"title":null,"values":[40,50,60,70,80,90,100,200,300,400,500,600,700,800,900,1000,2000,3000,4000,5000,6000,7000,8000,9000,10000,20000,30000,40000,50000,60000,70000,80000,90000,100000],"labelExpr":"indexof([100,1000,10000,100000],datum.value)>=0?format(datum.value,'d'):''","labelFontSize":6.6}}}},
      {"data":{"name":"p17p"},"transform":[{"calculate":"floor(10*log(datum.mfi)/LN10)","as":"row"},{"window":[{"op":"row_number","as":"rank"}],"groupby":["row"],"sort":[{"field":"mfi","order":"ascending"}]},{"calculate":"1+(datum.rank%2==0?-1:1)*floor(datum.rank/2)*0.0928","as":"pos"}],
       "mark":{"type":"point","shape":"square","filled":true,"opacity":1,"size":20,"color":"#ff0000"},
       "encoding":{"x":{"field":"pos","type":"quantitative","scale":{"domain":[-0.5,1.5]}},"y":{"field":"mfi","type":"quantitative","scale":{"type":"log","domain":[40,100000]}}}},
      {"data":{"name":"stats"},"transform":[{"filter":"datum.antigen=='p17'&&datum.status=='Neg'"}],"encoding":{"x":{"datum":0,"type":"quantitative","scale":{"domain":[-0.5,1.5]}}},
       "layer":[
        {"mark":{"type":"rule","color":"#0000ff","strokeWidth":1.2},"encoding":{"y":{"field":"lo","type":"quantitative","scale":{"type":"log","domain":[40,100000]}},"y2":{"field":"hi"}}},
        {"mark":{"type":"tick","orient":"horizontal","color":"#0000ff","size":30,"thickness":1.5},"encoding":{"y":{"field":"mean","type":"quantitative","scale":{"type":"log","domain":[40,100000]}}}},
        {"transform":[{"fold":["lo","hi"],"as":["bound","val"]}],"mark":{"type":"tick","orient":"horizontal","color":"#0000ff","size":16,"thickness":1.2},"encoding":{"y":{"field":"val","type":"quantitative","scale":{"type":"log","domain":[40,100000]}}}}]},
      {"data":{"name":"stats"},"transform":[{"filter":"datum.antigen=='p17'&&datum.status=='Pos'"}],"encoding":{"x":{"datum":1,"type":"quantitative","scale":{"domain":[-0.5,1.5]}}},
       "layer":[
        {"mark":{"type":"rule","color":"#ff0000","strokeWidth":1.2},"encoding":{"y":{"field":"lo","type":"quantitative","scale":{"type":"log","domain":[40,100000]}},"y2":{"field":"hi"}}},
        {"mark":{"type":"tick","orient":"horizontal","color":"#ff0000","size":30,"thickness":1.5},"encoding":{"y":{"field":"mean","type":"quantitative","scale":{"type":"log","domain":[40,100000]}}}},
        {"transform":[{"fold":["lo","hi"],"as":["bound","val"]}],"mark":{"type":"tick","orient":"horizontal","color":"#ff0000","size":16,"thickness":1.2},"encoding":{"y":{"field":"val","type":"quantitative","scale":{"type":"log","domain":[40,100000]}}}}]},
      {"data":{"name":"cutoffs"},"transform":[{"filter":"datum.antigen=='p17'"}],"mark":{"type":"rule","color":"#222222","strokeWidth":1.5},"encoding":{"y":{"field":"mfi","type":"quantitative","scale":{"type":"log","domain":[40,100000]}}}}
     ]},
   {"width":99,"height":175,"title":{"text":"TmpA-βgal antigen","offset":0,"frame":"group"},
     "layer":[
      {"data":{"name":"tmpn"},"transform":[{"calculate":"floor(10*log(datum.mfi)/LN10)","as":"row"},{"window":[{"op":"row_number","as":"rank"}],"groupby":["row"],"sort":[{"field":"mfi","order":"ascending"}]},{"calculate":"0+(datum.rank%2==0?-1:1)*floor(datum.rank/2)*0.0909","as":"pos"}],
       "mark":{"type":"point","shape":"triangle-up","filled":true,"opacity":1,"size":20,"color":"#00c800"},
       "encoding":{"x":{"field":"pos","type":"quantitative","scale":{"domain":[-0.5,1.5]},"axis":{"values":[0,1],"labelExpr":"datum.value<0.5?['T. pallidum','Neg']:['T. pallidum','Pos']","title":null,"labelFontSize":7,"labelFontStyle":"italic"}},
        "y":{"field":"mfi","type":"quantitative","scale":{"type":"log","domain":[40,100000]},"axis":{"title":null,"labels":false,"ticks":false}}}},
      {"data":{"name":"tmpp"},"transform":[{"calculate":"floor(10*log(datum.mfi)/LN10)","as":"row"},{"window":[{"op":"row_number","as":"rank"}],"groupby":["row"],"sort":[{"field":"mfi","order":"ascending"}]},{"calculate":"1+(datum.rank%2==0?-1:1)*floor(datum.rank/2)*0.0909","as":"pos"}],
       "mark":{"type":"point","shape":"triangle-down","filled":true,"opacity":1,"size":20,"color":"#cc33ff"},
       "encoding":{"x":{"field":"pos","type":"quantitative","scale":{"domain":[-0.5,1.5]}},"y":{"field":"mfi","type":"quantitative","scale":{"type":"log","domain":[40,100000]}}}},
      {"data":{"name":"stats"},"transform":[{"filter":"datum.antigen=='TmpA'&&datum.status=='Neg'"}],"encoding":{"x":{"datum":0,"type":"quantitative","scale":{"domain":[-0.5,1.5]}}},
       "layer":[
        {"mark":{"type":"rule","color":"#00c800","strokeWidth":1.2},"encoding":{"y":{"field":"lo","type":"quantitative","scale":{"type":"log","domain":[40,100000]}},"y2":{"field":"hi"}}},
        {"mark":{"type":"tick","orient":"horizontal","color":"#00c800","size":30,"thickness":1.5},"encoding":{"y":{"field":"mean","type":"quantitative","scale":{"type":"log","domain":[40,100000]}}}},
        {"transform":[{"fold":["lo","hi"],"as":["bound","val"]}],"mark":{"type":"tick","orient":"horizontal","color":"#00c800","size":16,"thickness":1.2},"encoding":{"y":{"field":"val","type":"quantitative","scale":{"type":"log","domain":[40,100000]}}}}]},
      {"data":{"name":"stats"},"transform":[{"filter":"datum.antigen=='TmpA'&&datum.status=='Pos'"}],"encoding":{"x":{"datum":1,"type":"quantitative","scale":{"domain":[-0.5,1.5]}}},
       "layer":[
        {"mark":{"type":"rule","color":"#cc33ff","strokeWidth":1.2},"encoding":{"y":{"field":"lo","type":"quantitative","scale":{"type":"log","domain":[40,100000]}},"y2":{"field":"hi"}}},
        {"mark":{"type":"tick","orient":"horizontal","color":"#cc33ff","size":30,"thickness":1.5},"encoding":{"y":{"field":"mean","type":"quantitative","scale":{"type":"log","domain":[40,100000]}}}},
        {"transform":[{"fold":["lo","hi"],"as":["bound","val"]}],"mark":{"type":"tick","orient":"horizontal","color":"#cc33ff","size":16,"thickness":1.2},"encoding":{"y":{"field":"val","type":"quantitative","scale":{"type":"log","domain":[40,100000]}}}}]},
      {"data":{"name":"cutoffs"},"transform":[{"filter":"datum.antigen=='TmpA'"}],"mark":{"type":"rule","color":"#222222","strokeWidth":1.5},"encoding":{"y":{"field":"mfi","type":"quantitative","scale":{"type":"log","domain":[40,100000]}}}}
     ]},
   {"width":44,"height":175,"data":{"values":[]},"mark":"point"},
   {"width":167,"height":175,"title":{"text":"HBV 270 antigen","offset":0,"frame":"group"},
    "layer":[
     {"data":{"name":"hbvn"},"transform":[{"calculate":"floor(10*log(datum.mfi)/LN10)","as":"row"},{"window":[{"op":"row_number","as":"rank"}],"groupby":["row"],"sort":[{"field":"mfi","order":"ascending"}]},{"calculate":"0+(datum.rank%2==0?-1:1)*floor(datum.rank/2)*0.0539","as":"pos"}],
      "mark":{"type":"point","shape":"circle","filled":true,"opacity":1,"size":20,"color":"#0000ff"},
      "encoding":{"x":{"field":"pos","type":"quantitative","scale":{"domain":[-0.5,1.5]},"axis":{"values":[0,1],"labelExpr":"datum.value<0.5?'HepB Neg':'HepB Pos'","title":null,"labelFontSize":7}},
       "y":{"field":"mfi","type":"quantitative","scale":{"type":"log","domain":[40,100000]},"axis":{"title":null,"values":[40,50,60,70,80,90,100,200,300,400,500,600,700,800,900,1000,2000,3000,4000,5000,6000,7000,8000,9000,10000,20000,30000,40000,50000,60000,70000,80000,90000,100000],"labelExpr":"indexof([100,1000,10000,100000],datum.value)>=0?format(datum.value,'d'):''","labelFontSize":8.1}}}},
     {"data":{"name":"hbvp"},"transform":[{"calculate":"floor(10*log(datum.mfi)/LN10)","as":"row"},{"window":[{"op":"row_number","as":"rank"}],"groupby":["row"],"sort":[{"field":"mfi","order":"ascending"}]},{"calculate":"1+(datum.rank%2==0?-1:1)*floor(datum.rank/2)*0.0539","as":"pos"}],
      "mark":{"type":"point","shape":"square","filled":true,"opacity":1,"size":20,"color":"#ff0000"},
      "encoding":{"x":{"field":"pos","type":"quantitative","scale":{"domain":[-0.5,1.5]}},"y":{"field":"mfi","type":"quantitative","scale":{"type":"log","domain":[40,100000]}}}},
     {"data":{"name":"stats"},"transform":[{"filter":"datum.antigen=='HBV 270'&&datum.status=='Neg'"}],"encoding":{"x":{"datum":0,"type":"quantitative","scale":{"domain":[-0.5,1.5]}}},
      "layer":[
       {"mark":{"type":"rule","color":"#0000ff","strokeWidth":1.2},"encoding":{"y":{"field":"lo","type":"quantitative","scale":{"type":"log","domain":[40,100000]}},"y2":{"field":"hi"}}},
       {"mark":{"type":"tick","orient":"horizontal","color":"#0000ff","size":55,"thickness":1.5},"encoding":{"y":{"field":"mean","type":"quantitative","scale":{"type":"log","domain":[40,100000]}}}},
       {"transform":[{"fold":["lo","hi"],"as":["bound","val"]}],"mark":{"type":"tick","orient":"horizontal","color":"#0000ff","size":28,"thickness":1.2},"encoding":{"y":{"field":"val","type":"quantitative","scale":{"type":"log","domain":[40,100000]}}}}]},
     {"data":{"name":"stats"},"transform":[{"filter":"datum.antigen=='HBV 270'&&datum.status=='Pos'"}],"encoding":{"x":{"datum":1,"type":"quantitative","scale":{"domain":[-0.5,1.5]}}},
      "layer":[
       {"mark":{"type":"rule","color":"#ff0000","strokeWidth":1.2},"encoding":{"y":{"field":"lo","type":"quantitative","scale":{"type":"log","domain":[40,100000]}},"y2":{"field":"hi"}}},
       {"mark":{"type":"tick","orient":"horizontal","color":"#ff0000","size":55,"thickness":1.5},"encoding":{"y":{"field":"mean","type":"quantitative","scale":{"type":"log","domain":[40,100000]}}}},
       {"transform":[{"fold":["lo","hi"],"as":["bound","val"]}],"mark":{"type":"tick","orient":"horizontal","color":"#ff0000","size":28,"thickness":1.2},"encoding":{"y":{"field":"val","type":"quantitative","scale":{"type":"log","domain":[40,100000]}}}}]},
     {"data":{"name":"cutoffs"},"transform":[{"filter":"datum.antigen=='HBV 270'"}],"mark":{"type":"rule","color":"#222222","strokeWidth":1.5},"encoding":{"y":{"field":"mfi","type":"quantitative","scale":{"type":"log","domain":[40,100000]}}}}
    ]}
 ]},
 {"bounds":"flush","spacing":0,"hconcat":[
   {"width":87,"height":168,"title":{"text":"HCV-11 antigen","offset":10,"frame":"group"},
    "layer":[
     {"data":{"name":"hcv11n"},"transform":[{"calculate":"floor(10*log(datum.mfi)/LN10)","as":"row"},{"window":[{"op":"row_number","as":"rank"}],"groupby":["row"],"sort":[{"field":"mfi","order":"ascending"}]},{"calculate":"0+(datum.rank%2==0?-1:1)*floor(datum.rank/2)*0.1034","as":"pos"}],
      "mark":{"type":"point","shape":"circle","filled":true,"opacity":1,"size":20,"color":"#0000ff"},
      "encoding":{"x":{"field":"pos","type":"quantitative","scale":{"domain":[-0.5,1.5]},"axis":{"values":[0,1],"labelExpr":"datum.value<0.5?'HepC Neg':'HepC Pos'","title":null,"labelFontSize":7.5}},
       "y":{"field":"mfi","type":"quantitative","scale":{"type":"log","domain":[40,100000]},"axis":{"title":"Mean Fluorescence Intensity (MFI)","titleFont":"Liberation Serif","titleFontSize":13,"titleFontWeight":"bold","titleColor":"#111111","titlePadding":-2,"titleY":107,"values":[40,50,60,70,80,90,100,200,300,400,500,600,700,800,900,1000,2000,3000,4000,5000,6000,7000,8000,9000,10000,20000,30000,40000,50000,60000,70000,80000,90000,100000],"labelExpr":"indexof([100,1000,10000,100000],datum.value)>=0?format(datum.value,'d'):''","labelFontSize":9}}}},
     {"data":{"name":"hcv11p"},"transform":[{"calculate":"floor(10*log(datum.mfi)/LN10)","as":"row"},{"window":[{"op":"row_number","as":"rank"}],"groupby":["row"],"sort":[{"field":"mfi","order":"ascending"}]},{"calculate":"1+(datum.rank%2==0?-1:1)*floor(datum.rank/2)*0.1034","as":"pos"}],
      "mark":{"type":"point","shape":"square","filled":true,"opacity":1,"size":20,"color":"#ff0000"},
      "encoding":{"x":{"field":"pos","type":"quantitative","scale":{"domain":[-0.5,1.5]}},"y":{"field":"mfi","type":"quantitative","scale":{"type":"log","domain":[40,100000]}}}},
     {"data":{"name":"stats"},"transform":[{"filter":"datum.antigen=='HCV-11'&&datum.status=='Pos'"}],"encoding":{"x":{"datum":1,"type":"quantitative","scale":{"domain":[-0.5,1.5]}}},
      "layer":[
       {"mark":{"type":"rule","color":"#ff0000","strokeWidth":1.2},"encoding":{"y":{"field":"lo","type":"quantitative","scale":{"type":"log","domain":[40,100000]}},"y2":{"field":"hi"}}},
       {"mark":{"type":"tick","orient":"horizontal","color":"#ff0000","size":33,"thickness":1.5},"encoding":{"y":{"field":"mean","type":"quantitative","scale":{"type":"log","domain":[40,100000]}}}},
       {"transform":[{"fold":["lo","hi"],"as":["bound","val"]}],"mark":{"type":"tick","orient":"horizontal","color":"#ff0000","size":20,"thickness":1.2},"encoding":{"y":{"field":"val","type":"quantitative","scale":{"type":"log","domain":[40,100000]}}}}]},
     {"data":{"name":"cutoffs"},"transform":[{"filter":"datum.antigen=='HCV-11'"}],"mark":{"type":"rule","color":"#222222","strokeWidth":1.5},"encoding":{"y":{"field":"mfi","type":"quantitative","scale":{"type":"log","domain":[40,100000]}}}}
    ]},
   {"width":96,"height":168,"title":{"text":"HCV-239 antigen","offset":10,"frame":"group"},
    "layer":[
     {"data":{"name":"hcv239n"},"transform":[{"calculate":"floor(10*log(datum.mfi)/LN10)","as":"row"},{"window":[{"op":"row_number","as":"rank"}],"groupby":["row"],"sort":[{"field":"mfi","order":"ascending"}]},{"calculate":"0+(datum.rank%2==0?-1:1)*floor(datum.rank/2)*0.0938","as":"pos"}],
      "mark":{"type":"point","shape":"triangle-up","filled":true,"opacity":1,"size":20,"color":"#00c800"},
      "encoding":{"x":{"field":"pos","type":"quantitative","scale":{"domain":[-0.5,1.5]},"axis":{"values":[0,1],"labelExpr":"datum.value<0.5?'HepC Neg':'HepC Pos'","title":null,"labelFontSize":7.5}},
       "y":{"field":"mfi","type":"quantitative","scale":{"type":"log","domain":[40,100000]},"axis":{"title":null,"labels":false,"ticks":false}}}},
     {"data":{"name":"hcv239p"},"transform":[{"calculate":"floor(10*log(datum.mfi)/LN10)","as":"row"},{"window":[{"op":"row_number","as":"rank"}],"groupby":["row"],"sort":[{"field":"mfi","order":"ascending"}]},{"calculate":"1+(datum.rank%2==0?-1:1)*floor(datum.rank/2)*0.0938","as":"pos"}],
      "mark":{"type":"point","shape":"triangle-down","filled":true,"opacity":1,"size":20,"color":"#cc33ff"},
      "encoding":{"x":{"field":"pos","type":"quantitative","scale":{"domain":[-0.5,1.5]}},"y":{"field":"mfi","type":"quantitative","scale":{"type":"log","domain":[40,100000]}}}},
     {"data":{"name":"stats"},"transform":[{"filter":"datum.antigen=='HCV-239'&&datum.status=='Neg'"}],"encoding":{"x":{"datum":0,"type":"quantitative","scale":{"domain":[-0.5,1.5]}}},
      "layer":[
       {"mark":{"type":"rule","color":"#00c800","strokeWidth":1.2},"encoding":{"y":{"field":"lo","type":"quantitative","scale":{"type":"log","domain":[40,100000]}},"y2":{"field":"hi"}}},
       {"mark":{"type":"tick","orient":"horizontal","color":"#00c800","size":33,"thickness":1.5},"encoding":{"y":{"field":"mean","type":"quantitative","scale":{"type":"log","domain":[40,100000]}}}},
       {"transform":[{"fold":["lo","hi"],"as":["bound","val"]}],"mark":{"type":"tick","orient":"horizontal","color":"#00c800","size":20,"thickness":1.2},"encoding":{"y":{"field":"val","type":"quantitative","scale":{"type":"log","domain":[40,100000]}}}}]},
     {"data":{"name":"stats"},"transform":[{"filter":"datum.antigen=='HCV-239'&&datum.status=='Pos'"}],"encoding":{"x":{"datum":1,"type":"quantitative","scale":{"domain":[-0.5,1.5]}}},
      "layer":[
       {"mark":{"type":"rule","color":"#cc33ff","strokeWidth":1.2},"encoding":{"y":{"field":"lo","type":"quantitative","scale":{"type":"log","domain":[40,100000]}},"y2":{"field":"hi"}}},
       {"mark":{"type":"tick","orient":"horizontal","color":"#cc33ff","size":33,"thickness":1.5},"encoding":{"y":{"field":"mean","type":"quantitative","scale":{"type":"log","domain":[40,100000]}}}},
       {"transform":[{"fold":["lo","hi"],"as":["bound","val"]}],"mark":{"type":"tick","orient":"horizontal","color":"#cc33ff","size":20,"thickness":1.2},"encoding":{"y":{"field":"val","type":"quantitative","scale":{"type":"log","domain":[40,100000]}}}}]},
     {"data":{"name":"cutoffs"},"transform":[{"filter":"datum.antigen=='HCV-239'"}],"mark":{"type":"rule","color":"#222222","strokeWidth":1.5},"encoding":{"y":{"field":"mfi","type":"quantitative","scale":{"type":"log","domain":[40,100000]}}}}
    ]},
   {"width":44,"height":168,"data":{"values":[]},"mark":"point"},
   {"width":185,"height":168,"title":{"text":"HSV-1gG antigen","offset":10,"frame":"group"},
    "layer":[
     {"data":{"name":"hsv1n"},"transform":[{"calculate":"floor(10*log(datum.mfi)/LN10)","as":"row"},{"window":[{"op":"row_number","as":"rank"}],"groupby":["row"],"sort":[{"field":"mfi","order":"ascending"}]},{"calculate":"0+(datum.rank%2==0?-1:1)*floor(datum.rank/2)*0.0486","as":"pos"}],
      "mark":{"type":"point","shape":"circle","filled":true,"opacity":1,"size":20,"color":"#0000ff"},
      "encoding":{"x":{"field":"pos","type":"quantitative","scale":{"domain":[-0.5,1.5]},"axis":{"values":[0,1],"labelExpr":"datum.value<0.5?'HSV-1 Neg':'HSV-1 Pos'","title":null,"labelFontSize":8}},
       "y":{"field":"mfi","type":"quantitative","scale":{"type":"log","domain":[40,100000]},"axis":{"title":null,"values":[40,50,60,70,80,90,100,200,300,400,500,600,700,800,900,1000,2000,3000,4000,5000,6000,7000,8000,9000,10000,20000,30000,40000,50000,60000,70000,80000,90000,100000],"labelExpr":"indexof([100,1000,10000,100000],datum.value)>=0?format(datum.value,'d'):''","labelFontSize":9}}}},
     {"data":{"name":"hsv1p"},"transform":[{"calculate":"floor(10*log(datum.mfi)/LN10)","as":"row"},{"window":[{"op":"row_number","as":"rank"}],"groupby":["row"],"sort":[{"field":"mfi","order":"ascending"}]},{"calculate":"1+(datum.rank%2==0?-1:1)*floor(datum.rank/2)*0.0486","as":"pos"}],
      "mark":{"type":"point","shape":"square","filled":true,"opacity":1,"size":20,"color":"#ff0000"},
      "encoding":{"x":{"field":"pos","type":"quantitative","scale":{"domain":[-0.5,1.5]}},"y":{"field":"mfi","type":"quantitative","scale":{"type":"log","domain":[40,100000]}}}},
     {"data":{"name":"stats"},"transform":[{"filter":"datum.antigen=='HSV-1gG'&&datum.status=='Neg'"}],"encoding":{"x":{"datum":0,"type":"quantitative","scale":{"domain":[-0.5,1.5]}}},
      "layer":[
       {"mark":{"type":"rule","color":"#0000ff","strokeWidth":1.2},"encoding":{"y":{"field":"lo","type":"quantitative","scale":{"type":"log","domain":[40,100000]}},"y2":{"field":"hi"}}},
       {"mark":{"type":"tick","orient":"horizontal","color":"#0000ff","size":60,"thickness":1.5},"encoding":{"y":{"field":"mean","type":"quantitative","scale":{"type":"log","domain":[40,100000]}}}},
       {"transform":[{"fold":["lo","hi"],"as":["bound","val"]}],"mark":{"type":"tick","orient":"horizontal","color":"#0000ff","size":30,"thickness":1.2},"encoding":{"y":{"field":"val","type":"quantitative","scale":{"type":"log","domain":[40,100000]}}}}]},
     {"data":{"name":"cutoffs"},"transform":[{"filter":"datum.antigen=='HSV-1gG'"}],"mark":{"type":"rule","color":"#222222","strokeWidth":1.5},"encoding":{"y":{"field":"mfi","type":"quantitative","scale":{"type":"log","domain":[40,100000]}}}}
    ]},
   {"width":36,"height":168,"data":{"values":[]},"mark":"point"},
   {"width":177,"height":168,"title":{"text":"HSV-1gG antigen","offset":10,"frame":"group"},
    "layer":[
     {"data":{"name":"hsv2n"},"transform":[{"calculate":"floor(10*log(datum.mfi)/LN10)","as":"row"},{"window":[{"op":"row_number","as":"rank"}],"groupby":["row"],"sort":[{"field":"mfi","order":"ascending"}]},{"calculate":"0+(datum.rank%2==0?-1:1)*floor(datum.rank/2)*0.0508","as":"pos"}],
      "mark":{"type":"point","shape":"circle","filled":true,"opacity":1,"size":20,"color":"#0000ff"},
      "encoding":{"x":{"field":"pos","type":"quantitative","scale":{"domain":[-0.5,1.5]},"axis":{"values":[0,1],"labelExpr":"datum.value<0.5?'HSV-2 Neg':'HSV-2 Pos'","title":null,"labelFontSize":8}},
       "y":{"field":"mfi","type":"quantitative","scale":{"type":"log","domain":[40,100000]},"axis":{"title":null,"values":[40,50,60,70,80,90,100,200,300,400,500,600,700,800,900,1000,2000,3000,4000,5000,6000,7000,8000,9000,10000,20000,30000,40000,50000,60000,70000,80000,90000,100000],"labelExpr":"indexof([100,1000,10000,100000],datum.value)>=0?format(datum.value,'d'):''","labelFontSize":8.1}}}},
     {"data":{"name":"hsv2p"},"transform":[{"calculate":"floor(10*log(datum.mfi)/LN10)","as":"row"},{"window":[{"op":"row_number","as":"rank"}],"groupby":["row"],"sort":[{"field":"mfi","order":"ascending"}]},{"calculate":"1+(datum.rank%2==0?-1:1)*floor(datum.rank/2)*0.0508","as":"pos"}],
      "mark":{"type":"point","shape":"square","filled":true,"opacity":1,"size":20,"color":"#ff0000"},
      "encoding":{"x":{"field":"pos","type":"quantitative","scale":{"domain":[-0.5,1.5]}},"y":{"field":"mfi","type":"quantitative","scale":{"type":"log","domain":[40,100000]}}}},
     {"data":{"name":"stats"},"transform":[{"filter":"datum.antigen=='HSV-2gG'&&datum.status=='Neg'"}],"encoding":{"x":{"datum":0,"type":"quantitative","scale":{"domain":[-0.5,1.5]}}},
      "layer":[
       {"mark":{"type":"rule","color":"#0000ff","strokeWidth":1.2},"encoding":{"y":{"field":"lo","type":"quantitative","scale":{"type":"log","domain":[40,100000]}},"y2":{"field":"hi"}}},
       {"mark":{"type":"tick","orient":"horizontal","color":"#0000ff","size":42,"thickness":1.5},"encoding":{"y":{"field":"mean","type":"quantitative","scale":{"type":"log","domain":[40,100000]}}}},
       {"transform":[{"fold":["lo","hi"],"as":["bound","val"]}],"mark":{"type":"tick","orient":"horizontal","color":"#0000ff","size":24,"thickness":1.2},"encoding":{"y":{"field":"val","type":"quantitative","scale":{"type":"log","domain":[40,100000]}}}}]},
     {"data":{"name":"cutoffs"},"transform":[{"filter":"datum.antigen=='HSV-2gG'"}],"mark":{"type":"rule","color":"#222222","strokeWidth":1.5},"encoding":{"y":{"field":"mfi","type":"quantitative","scale":{"type":"log","domain":[40,100000]}}}}
    ]}
 ]}
]
}
